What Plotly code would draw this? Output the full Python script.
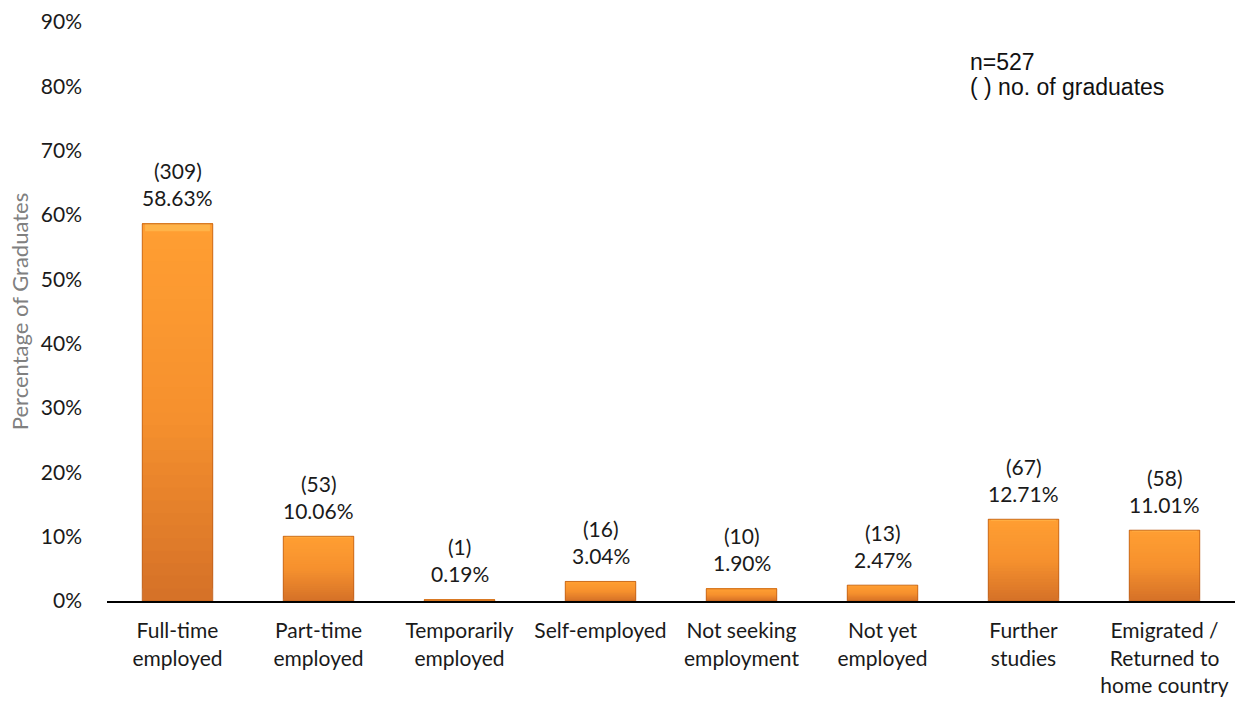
import plotly.graph_objects as go

# Graduate employment outcomes
categories = [
    "Full-time<br>employed",
    "Part-time<br>employed",
    "Temporarily<br>employed",
    "Self-employed",
    "Not seeking<br>employment",
    "Not yet<br>employed",
    "Further<br>studies",
    "Emigrated /<br>Returned to<br>home country",
]
percentages = [58.63, 10.06, 0.19, 3.04, 1.90, 2.47, 12.71, 11.01]
counts = [309, 53, 1, 16, 10, 13, 67, 58]
y_ticks = [0, 10, 20, 30, 40, 50, 60, 70, 80, 90]

FONT = "Lato, Open Sans, sans-serif"
TXT = "#1a1a1a"
BAR_W = 0.5
N_SEG = 30
BOTTOM_RGB = (214, 114, 40)
MID_RGB = (246, 145, 46)
TOP_RGB = (255, 158, 50)


def blend(t):
    # dark at the base, bright towards the top
    if t < 0.5:
        a, b, u = BOTTOM_RGB, MID_RGB, t / 0.5
    else:
        a, b, u = MID_RGB, TOP_RGB, (t - 0.5) / 0.5
    return "rgb(%d,%d,%d)" % tuple(round(a[i] + (b[i] - a[i]) * u) for i in range(3))


fig = go.Figure()

# vertical gradient: each layer starts a little higher and covers the rest of the bar
for k in range(N_SEG):
    start = k / N_SEG
    fig.add_trace(go.Bar(
        x=categories,
        y=[v * (1 - start) / 100 for v in percentages],
        base=[v * start / 100 for v in percentages],
        width=BAR_W,
        marker=dict(color=blend(k / (N_SEG - 1)), line=dict(width=0)),
        hoverinfo="skip",
        showlegend=False,
    ))

# bevel highlight along the top edge of each bar
fig.add_trace(go.Bar(
    x=categories,
    y=[v / 100 * 0.02 for v in percentages],
    base=[v / 100 * 0.98 for v in percentages],
    width=BAR_W * 0.92,
    marker=dict(color="rgba(255,205,100,0.45)", line=dict(width=0)),
    hoverinfo="skip",
    showlegend=False,
))

# bar outline
fig.add_trace(go.Bar(
    x=categories,
    y=[v / 100 for v in percentages],
    width=BAR_W,
    marker=dict(color="rgba(0,0,0,0)", line=dict(color="rgba(185,92,25,0.75)", width=1)),
    hoverinfo="skip",
    showlegend=False,
))

# value labels: count on top, percentage below it
for cat, v, c in zip(categories, percentages, counts):
    fig.add_annotation(
        x=cat, y=v / 100, xref="x", yref="y",
        text="%.2f%%" % v, showarrow=False,
        yanchor="middle", yshift=26,
        font=dict(family=FONT, size=21, color=TXT),
    )
    fig.add_annotation(
        x=cat, y=v / 100, xref="x", yref="y",
        text="(%d)" % c, showarrow=False,
        yanchor="middle", yshift=53,
        font=dict(family=FONT, size=21, color=TXT),
    )

NOTE_FONT = dict(family="Liberation Sans, Arial, sans-serif", size=23, color="#111111")
fig.add_annotation(
    xref="paper", yref="paper", x=0.7635, y=0.931,
    xanchor="left", yanchor="middle", showarrow=False,
    text="n=527", font=NOTE_FONT,
)
fig.add_annotation(
    xref="paper", yref="paper", x=0.7635, y=0.888,
    xanchor="left", yanchor="middle", showarrow=False,
    text="( ) no. of graduates", font=NOTE_FONT,
)

fig.update_layout(
    width=1238, height=702,
    margin=dict(l=107, r=3, t=22, b=101),
    paper_bgcolor="white", plot_bgcolor="white",
    barmode="overlay",
    font=dict(family=FONT, size=21, color=TXT),
)

fig.update_xaxes(
    showline=True, linecolor="black", linewidth=2,
    showgrid=False, ticks="", tickfont=dict(size=21),
    ticklabelstandoff=10,
)
fig.update_yaxes(
    range=[0, 0.9],
    tickvals=[t / 100 for t in y_ticks],
    ticktext=["%d%%" % t for t in y_ticks],
    showgrid=False, zeroline=False, showline=False,
    ticks="", ticklabelstandoff=24, tickfont=dict(size=21),
    title=dict(text="Percentage of Graduates", standoff=6,
               font=dict(size=22, color="#808080")),
)

fig.write_html("out.html")
